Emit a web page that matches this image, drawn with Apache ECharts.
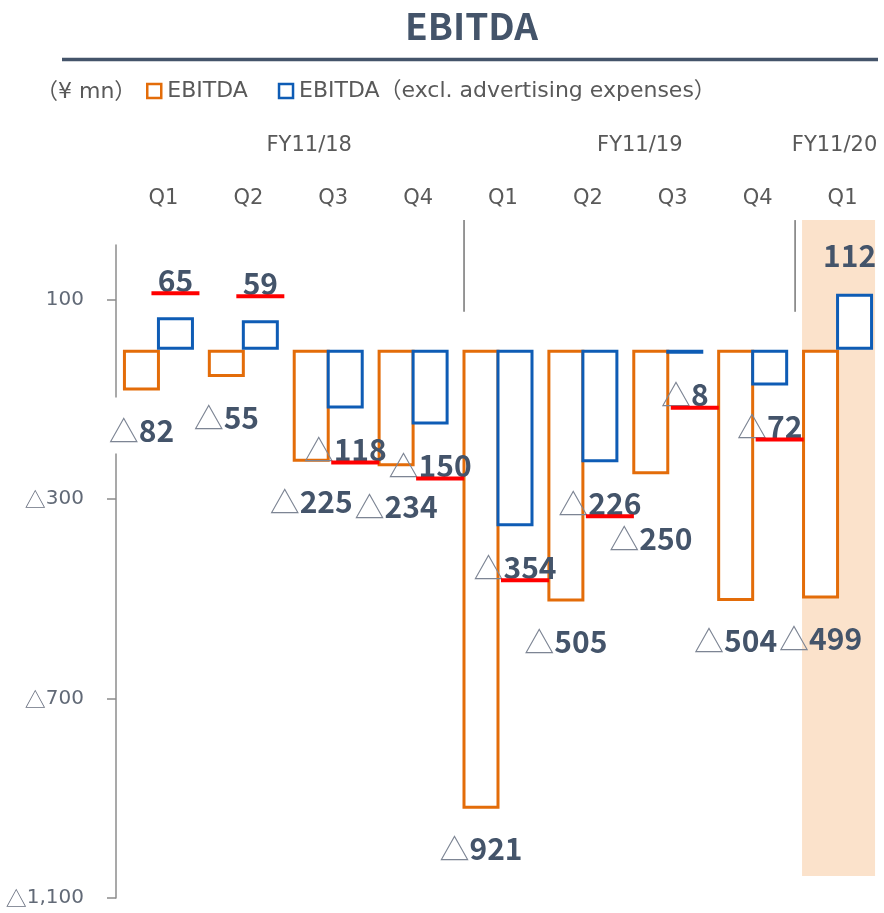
<!DOCTYPE html>
<html><head><meta charset="utf-8">
<script src="https://cdn.jsdelivr.net/npm/echarts@6/dist/echarts.min.js"></script>
<style>html,body{margin:0;padding:0;background:#fff}#c{width:884px;height:913px}</style>
</head><body><div id="c"></div>
<script>
// ---- data ----
const fiscalYears = ['FY11/18','FY11/18','FY11/18','FY11/18','FY11/19','FY11/19','FY11/19','FY11/19','FY11/20'];
const quarters = ['Q1','Q2','Q3','Q4','Q1','Q2','Q3','Q4','Q1'];
const fiscalYearLabels = ['', '', 'FY11/18', '', '', '', 'FY11/19', '', 'FY11/20'];
const ebitda = [-82, -55, -225, -234, -921, -505, -250, -504, -499];
const ebitdaExAd = [65, 59, -118, -150, -354, -226, -8, -72, 112];
const underlinedExAd = [true, true, true, true, true, true, true, true, false];
const yTicks = [-1100, -700, -300, 100];
const highlightIndex = 8;
const separatorAfter = [3, 7];

// ---- styles ----
const CJK = '"Noto Sans CJK JP", sans-serif';
const SANS = '"DejaVu Sans", "Noto Sans CJK JP", sans-serif';
const ORANGE = '#E36C09';
const BLUE = '#0E5CB5';
const SLATE = '#44546A';
const GREY = '#595959';

const categories = quarters.map((q, i) => fiscalYears[i] + ' ' + q);

const richValue = {
  t: {fontFamily: CJK, fontSize: 30, fontWeight: 'normal', color: '#7d8594', lineHeight: 22},
  n: {fontFamily: CJK, fontSize: 30, fontWeight: 'bold', color: SLATE, lineHeight: 22},
  s: {width: 20, height: 4, lineHeight: 4},
  u: {width: 48, height: 4, lineHeight: 4, backgroundColor: '#FF0000'}
};

function valueText(v, underline) {
  let s = (v < 0 ? '{t|△}' : '') + '{n|' + Math.abs(v) + '}';
  if (underline) s += '\n' + (v < 0 ? '{s|}' : '') + '{u|}';
  return s;
}

const ebitdaData = ebitda.map((v, i) => {
  const label = {show: true, position: v < 0 ? 'bottom' : 'top', distance: 29,
    formatter: valueText(v, false), rich: richValue};
  if (i === 6) label.distance = 53;
  if (i === 0) { label.backgroundColor = '#fff'; label.padding = [22, 0, 12, 0]; label.distance = 7; }
  return {value: v, label};
});

const exAdData = ebitdaExAd.map((v, i) => {
  const u = underlinedExAd[i];
  const label = {show: true, rich: richValue, formatter: valueText(v, u),
    position: v < 0 ? 'bottom' : 'top',
    distance: v < 0 ? 30 : (u ? 22 : 27)};
  if (!u) label.offset = [-5, 0];
  return {value: v, label};
});

const chart = echarts.init(document.getElementById('c'));
chart.setOption({
  animation: false,
  backgroundColor: '#fff',
  title: [
    {text: 'EBITDA', left: 405, top: 6, padding: 0,
     textStyle: {fontFamily: CJK, fontSize: 37, fontWeight: 'bold', color: SLATE, lineHeight: 40}},
    {text: '（¥ mn）', left: 36, top: 80, padding: 0,
     textStyle: {fontFamily: SANS, fontSize: 22, fontWeight: 'normal', color: GREY, lineHeight: 25}}
  ],
  graphic: [
    {type: 'line', shape: {x1: 62, y1: 59.5, x2: 878, y2: 59.5}, style: {stroke: SLATE, lineWidth: 3.5}, silent: true}
  ],
  legend: {
    left: 146, top: 80, padding: 0, itemWidth: 14, itemHeight: 14, itemGap: 30, icon: 'rect',
    itemStyle: {borderWidth: 2.5},
    textStyle: {fontFamily: SANS, fontSize: 22, color: GREY, padding: [0, 0, 0, 1]},
    data: ['EBITDA', 'EBITDA（excl. advertising expenses）'],
    selectedMode: false
  },
  grid: {left: 116, right: 4, top: 245, bottom: 15, containLabel: false, outerBoundsMode: 'none'},
  xAxis: [
    {type: 'category', data: categories, position: 'top',
     axisLine: {show: false}, axisTick: {show: false}, splitLine: {show: false},
     axisLabel: {interval: 0, margin: 36, fontFamily: SANS, fontSize: 21, color: GREY,
       formatter: (v, i) => quarters[i], padding: [0, 0, 0, 10]}},
    {type: 'category', data: categories, position: 'top', offset: 53,
     axisLine: {show: false}, axisTick: {show: false}, splitLine: {show: false},
     axisLabel: {interval: 0, margin: 36, fontFamily: SANS, fontSize: 21, color: GREY,
       formatter: (v, i) => fiscalYearLabels[i] ? '{f' + i + '|' + fiscalYearLabels[i] + '}' : '',
       rich: {
         f2: {fontFamily: SANS, fontSize: 21, color: GREY, padding: [0, 38, 0, 0]},
         f6: {fontFamily: SANS, fontSize: 21, color: GREY, padding: [0, 56, 0, 0]},
         f8: {fontFamily: SANS, fontSize: 21, color: GREY, padding: [0, 6, 0, 0]}
       }}}
  ],
  yAxis: {
    type: 'value', min: -1100, max: 210, interval: 400,
    splitLine: {show: false},
    axisLine: {show: true, lineStyle: {color: '#8c8c8c', width: 1.5}},
    axisTick: {show: true, length: 9, customValues: yTicks, lineStyle: {color: '#8c8c8c', width: 1.5}},
    axisLabel: {customValues: yTicks, margin: 32,
      formatter: v => v < 0 ? '{t|△}{v|' + Math.abs(v).toLocaleString('en-US') + '}' : '{v|' + v + '}',
      rich: {
        t: {fontFamily: CJK, fontSize: 21, color: '#6a7180'},
        v: {fontFamily: SANS, fontSize: 20, color: '#626a77'}
      }}
  },
  series: [
    {type: 'custom', name: 'band', silent: true, z: 0, clip: false,
     data: [[highlightIndex, 260, -1056]],
     renderItem: (params, api) => {
       const a = api.coord([api.value(0), api.value(1)]);
       const b = api.coord([api.value(0), api.value(2)]);
       const w = api.size([1, 0])[0] * 0.86;
       return {type: 'rect', shape: {x: a[0] - w / 2 + 1, y: a[1], width: w, height: b[1] - a[1]},
               style: {fill: '#FBE2CB'}};
     }},
    {type: 'custom', name: 'separators', silent: true, z: 1, clip: false,
     data: separatorAfter.map(i => [i, 260, 76]),
     renderItem: (params, api) => {
       const frac = params.dataIndex === 0 ? 0.6 : 0.5;
       const i = api.value(0);
       const p0 = api.coord([i, api.value(1)]);
       const p1 = api.coord([i + 1, api.value(2)]);
       const x = p0[0] + frac * (p1[0] - p0[0]);
       return {type: 'line', shape: {x1: x, y1: p0[1], x2: x, y2: p1[1]},
               style: {stroke: '#8c8c8c', lineWidth: 1.8}};
     }},
    {type: 'bar', name: 'EBITDA', z: 2, data: ebitdaData, barWidth: 37, barGap: '-8.1%',
     itemStyle: {color: '#fff', borderColor: ORANGE, borderWidth: 3}},
    {type: 'bar', name: 'EBITDA（excl. advertising expenses）', z: 3, data: exAdData, barWidth: 37, barGap: '-8.1%',
     itemStyle: {color: '#fff', borderColor: BLUE, borderWidth: 3}}
  ]
});
</script>
</body></html>
